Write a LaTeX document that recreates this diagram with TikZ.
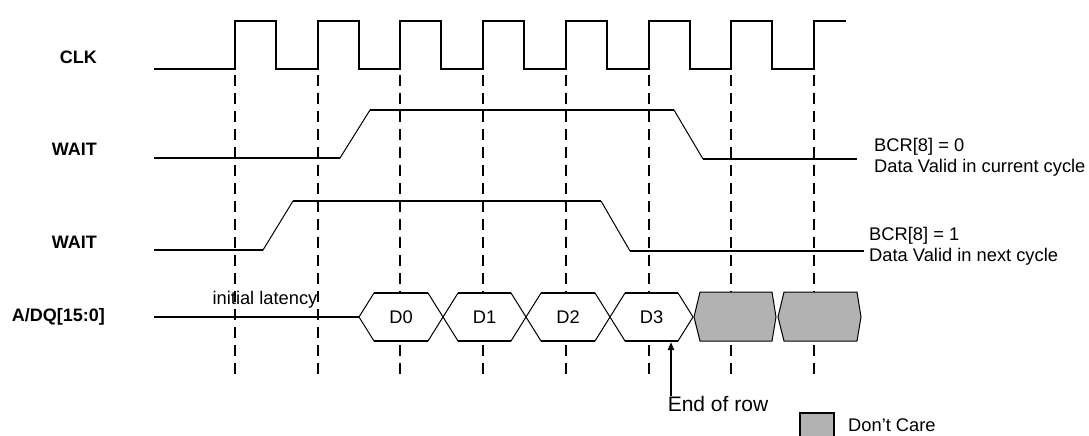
\documentclass[tikz,border=0pt]{standalone}
\usepackage{fontspec}
\setmainfont{Liberation Sans}
\usetikzlibrary{arrows.meta, positioning}

\begin{document}
\begin{tikzpicture}[x=1pt,y=-1pt,
    sig/.style={line width=2pt},
    ramp/.style={line width=1pt},
    tick/.style={line width=2pt,dash pattern=on 11pt off 7pt},
    lbl/.style={font=\fontsize{18}{21}\selectfont\bfseries,anchor=east,inner sep=0pt},
    txt/.style={font=\fontsize{18.3}{21}\selectfont,inner sep=0pt}]
    \useasboundingbox (0,0) rectangle (1089,436);
    \foreach \k in {0,...,7}
    \draw[tick] ({235+82.7*\k},75)--({235+82.7*\k},378);
    \draw[sig] (154,69)
    \foreach \k in {0,...,6}{
    --({235+82.7*\k},69)--({235+82.7*\k},21)--({276+82.7*\k},21)--({276+82.7*\k},69)}
    --(814,69)--(814,21)--(846,21);
    \draw[sig] (154,158)--(340,158) (370,110)--(674,110) (703,159)--(857,159);
    \draw[ramp] (340,158)--(370,110) (674,110)--(703,159);
    \draw[sig] (154,250)--(263,250) (293,201)--(601,201) (630,251)--(864,251);
    \draw[ramp] (263,250)--(293,201) (601,201)--(630,251);
    \draw[sig] (154,317)--(359,317);
    \foreach \a/\b/\n in {359/443/D0,443/526/D1,526/610/D2,610/693/D3}{
    \draw[ramp,fill=white] (\a,317)--(\a+15,293)--(\b-15,293)--(\b,317)--(\b-15,341)--(\a+15,341)--cycle;
    \draw[sig] (\a+15,293)--(\b-15,293) (\a+15,341)--(\b-15,341);
    \node[txt] (\n) at ({(\a+\b)/2},317) {\n};
    }
    \foreach \a/\b in {694/776,778/861}
    \draw[ramp,fill=gray!60] (\a,317)--(\a+6,292)--(\b-4,292)--(\b,317)--(\b-4,341)--(\a+6,341)--cycle;
    \node[lbl] (clk) at (97,57) {CLK};
    \node[lbl] (wait0) at (97,149) {WAIT};
    \node[lbl] (wait1) at (97,242) {WAIT};
    \node[lbl] (adq) at (105,317) {A/DQ[15:0]};
    \node[txt] (lat) at (265,300) {initial latency};
    \node[txt,anchor=west,align=left] (bcr0) at (874,157) {BCR[8] = 0\\Data Valid in current cycle};
    \node[txt,anchor=west,align=left] (bcr1) at (869,246) {BCR[8] = 1\\Data Valid in next cycle};
    \node[txt,font=\fontsize{21}{24}\selectfont] (eor) at (718,404) {End of row};
    \coordinate (rowend) at (671,342);
    \draw[sig,-{Triangle[length=8pt,width=6pt]}] (eor.north -| rowend)--(rowend);
    \node[draw,line width=2pt,fill=gray!60,minimum width=34pt,minimum height=24pt,inner sep=0pt] (dc) at (817,425) {};
    \node[txt,right=13pt of dc] (dctxt) {Don’t Care};
\end{tikzpicture}
\end{document}
